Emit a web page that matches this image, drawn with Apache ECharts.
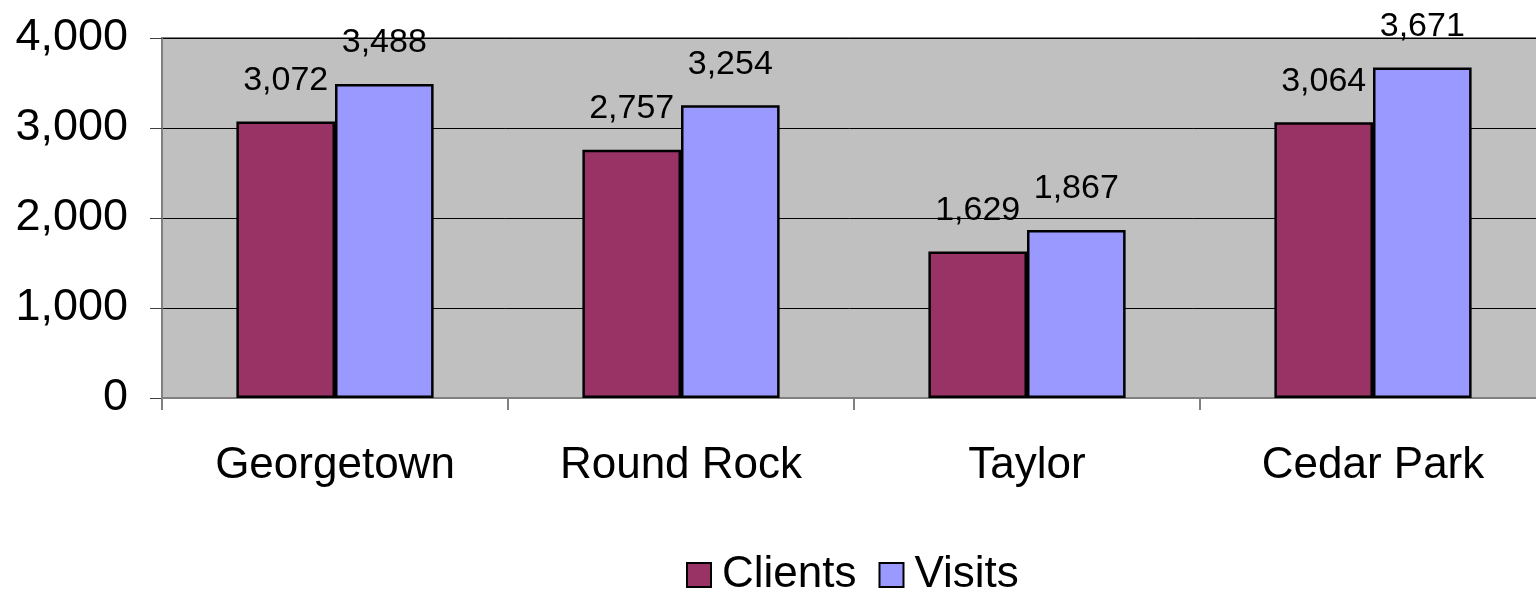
<!DOCTYPE html>
<html>
<head>
<meta charset="utf-8">
<script src="https://cdn.jsdelivr.net/npm/echarts@6/dist/echarts.min.js"></script>
<style>
  html, body { margin: 0; padding: 0; background: #fff; }
  #chart { width: 1536px; height: 592px; }
</style>
</head>
<body>
<div id="chart"></div>
<script>
// data
const categories = ['Georgetown', 'Round Rock', 'Taylor', 'Cedar Park'];
const clients = [3072, 2757, 1629, 3064];
const visits = [3488, 3254, 1867, 3671];
const yTicks = [0, 1000, 2000, 3000, 4000];

const FONT = '"Liberation Sans", Arial, sans-serif';
const fmt = v => v.toLocaleString('en-US');

const chart = echarts.init(document.getElementById('chart'));

const barLabel = {
  show: true,
  position: 'top',
  distance: 24,
  color: '#000',
  fontFamily: FONT,
  fontSize: 34,
  formatter: p => fmt(p.value)
};

chart.setOption({
  animation: false,
  backgroundColor: '#fff',
  // plot area runs a little past the right edge of the picture
  grid: {
    left: 162,
    top: 38,
    width: 1384,
    height: 360,
    outerBoundsMode: 'none',
    show: true,
    backgroundColor: '#C0C0C0',
    borderColor: '#808080',
    borderWidth: 2
  },
  legend: {
    top: 548,
    left: 681,
    itemWidth: 24,
    itemHeight: 24,
    itemGap: 22,
    textStyle: { color: '#000', fontFamily: FONT, fontSize: 44, padding: [0, 0, 0, 6] },
    data: [
      { name: 'Clients', icon: 'rect', itemStyle: { borderColor: '#000', borderWidth: 2 } },
      { name: 'Visits', icon: 'rect', itemStyle: { borderColor: '#000', borderWidth: 2 } }
    ]
  },
  xAxis: {
    type: 'category',
    data: categories,
    axisLine: { lineStyle: { color: '#808080', width: 2 } },
    axisTick: { show: true, length: 12, lineStyle: { color: '#808080', width: 2 } },
    axisLabel: { color: '#000', fontFamily: FONT, fontSize: 44, margin: 46 }
  },
  yAxis: {
    type: 'value',
    min: yTicks[0],
    max: yTicks[yTicks.length - 1],
    interval: 1000,
    axisLine: { show: true, lineStyle: { color: '#808080', width: 2 } },
    axisTick: { show: true, length: 12, lineStyle: { color: '#404040', width: 1 } },
    axisLabel: { color: '#000', fontFamily: FONT, fontSize: 45, margin: 34, formatter: v => fmt(v) },
    splitLine: { show: true, lineStyle: { color: '#000', width: 1 } }
  },
  series: [
    {
      name: 'Clients',
      type: 'bar',
      data: clients,
      barGap: '0%',
      barCategoryGap: '43%',
      itemStyle: { color: '#993366', borderColor: '#000', borderWidth: 2.5 },
      label: barLabel
    },
    {
      name: 'Visits',
      type: 'bar',
      data: visits,
      itemStyle: { color: '#9999FF', borderColor: '#000', borderWidth: 2.5 },
      label: barLabel
    }
  ]
});
</script>
</body>
</html>
